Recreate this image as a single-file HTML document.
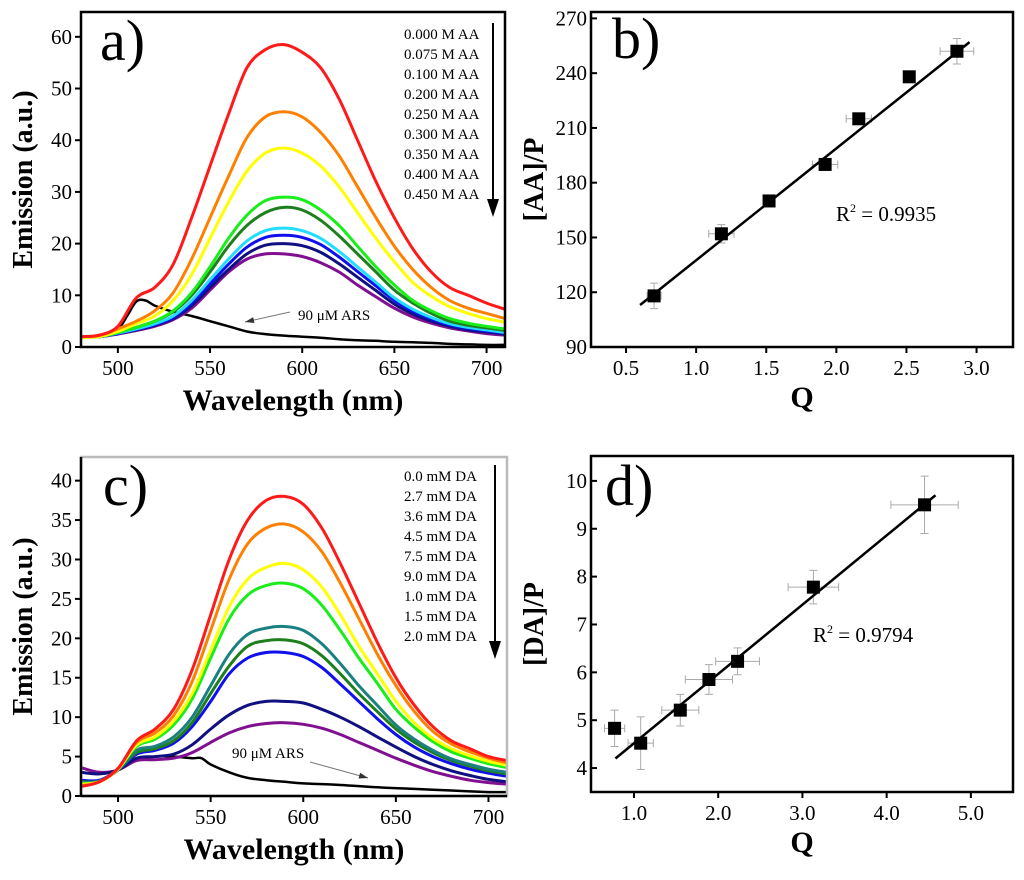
<!DOCTYPE html>
<html><head><meta charset="utf-8"><style>
html,body{margin:0;padding:0;background:#fff;}
svg, svg text{font-family:"Liberation Serif","DejaVu Serif","Noto Serif CJK SC",serif;}
</style></head><body>
<svg id="fig" width="1024" height="875" viewBox="0 0 1024 875" xmlns="http://www.w3.org/2000/svg"></svg>
<script>
// ---------- DATA ----------
const waveKnots = [480,490,500,510,520,530,540,550,560,570,580,590,600,610,620,630,640,650,660,670,680,690,700,710];
const aLabels = ["0.000 M AA","0.075 M AA","0.100 M AA","0.200 M AA","0.250 M AA","0.300 M AA","0.350 M AA","0.400 M AA","0.450 M AA"];
const aColors = ["#ff1a1a","#ff8000","#ffff00","#1aee1a","#1e7f1e","#22ddff","#1010ee","#101080","#80108f"];
const aRed    = [2,2.3,4,9.5,11.5,16,25,35,45,54,57.5,58.5,57,54,48,40,32,25,19,14.5,11.5,10,8.5,7.3];
const aOrange = [2,2.2,3.5,5,7,10.5,17,25,33,40.5,44.5,45.5,44.5,41.5,37,31,25,19.5,15,11.5,9,7.5,6.5,5.5];
const aYellow = [1.8,2,3,4.5,6,9,14,21,28,34,37.5,38.5,37.5,35,31,26,21,16.5,12.5,9.8,7.8,6.5,5.5,4.8];
const aGreen  = [2,2,2.8,3.8,5,7,10.5,15.5,21,25.5,28.3,29,28.5,26.5,23.5,19.5,15.5,12,9,7,5.5,4.6,4,3.5];
const aDkGreen= [2,2,2.8,3.8,5,6.8,10,14.5,19.5,23.5,26,27,26.5,24.5,21.5,18,14.5,11,8.5,6.5,5,4.2,3.7,3.2];
const aCyan   = [1.8,2,2.7,3.5,4.5,6,9,13,17,20.5,22.5,23,22.5,21,18.5,15.5,12.5,9.5,7.3,5.7,4.5,3.8,3.3,2.8];
const aBlue   = [1.9,2,2.6,3.4,4.3,5.7,8.5,12.2,16,19.3,21.2,21.6,21.2,19.8,17.4,14.6,11.8,9,6.9,5.4,4.3,3.6,3.1,2.7];
const aNavy   = [2,2,2.6,3.3,4.2,5.5,8,11.5,15,18,19.7,20,19.6,18.3,16.1,13.5,10.9,8.3,6.4,5,4,3.3,2.9,2.5];
const aPurple = [2,2,2.5,3.2,4,5.3,7.5,11,14.5,17,18,18,17.5,16.3,14.5,12,9.7,7.5,5.8,4.6,3.7,3.1,2.6,2.3];
const aArsX = [480,490,500,505,510,515,520,530,540,550,560,570,580,590,600,610,620,630,640,650,660,670,680,690,700,710];
const aArsY = [1.8,2.2,3.5,6,8.8,9,8,6.8,6,5,4,3,2.5,2.2,2,1.8,1.5,1.3,1.2,1,0.9,0.8,0.6,0.5,0.4,0.4];

const cLabels = ["0.0 mM DA","2.7 mM DA","3.6 mM DA","4.5 mM DA","7.5 mM DA","9.0 mM DA","1.0 mM DA","1.5 mM DA","2.0 mM DA"];
const cColors = ["#ff1a1a","#ff8000","#ffff00","#1aee1a","#1a8080","#1e7f1e","#1010ee","#101080","#80108f"];
const cRed    = [1.2,1.8,3.5,7,8.5,11,16,23,30,35,37.5,38,37,34,29.5,24.5,19.5,15,11.5,8.8,7,6,5,4.5];
const cOrange = [1.3,1.8,3.5,6.8,8,10.2,14.5,21,27.5,32,34,34.5,33.5,31,27,22.5,18,14,10.7,8.2,6.6,5.6,4.8,4.2];
const cYellow = [1.5,1.8,3.4,6.5,7.5,9.5,13,18.5,24,27.5,29,29.5,28.7,26.5,23,19,15.5,12,9.3,7.3,6,5.1,4.4,3.9];
const cGreen  = [1.6,1.8,3.4,6.3,7.2,9,12.3,17.5,22.5,25.5,26.7,27,26.3,24.2,21,17.5,14.3,11,8.7,6.9,5.6,4.8,4.1,3.6];
const cTeal   = [1.7,1.9,3.3,5.8,6.3,7.5,10,14,18,20.5,21.3,21.5,21,19.3,16.8,14,11.5,9,7.2,5.8,4.7,4,3.4,3];
const cDkGreen= [1.8,1.9,3.3,5.5,6,7,9.3,13,16.5,19,19.7,19.8,19.3,17.8,15.5,13,10.7,8.5,6.8,5.5,4.5,3.8,3.2,2.8];
const cBlue   = [2,2,3.3,5.3,5.8,6.7,8.8,12,15.5,17.5,18.2,18.2,17.7,16.3,14.2,12,9.8,7.8,6.2,5,4.1,3.4,2.9,2.5];
const cNavy   = [3,2.8,3.3,4.8,5,5.3,6.5,8.5,10.3,11.5,12,12,11.8,11,10,8.8,7.5,6.2,5,4,3.2,2.6,2.1,1.8];
const cPurple = [3.6,3,3.3,4.5,4.6,4.8,5.5,6.8,8,8.8,9.2,9.3,9.1,8.6,7.8,6.8,5.8,4.8,3.9,3.1,2.5,2,1.7,1.5];
const cArsX = [500,510,520,530,540,545,550,560,570,580,590,600,620,640,660,680,700,710];
const cArsY = [3.5,4.5,5,5,4.8,4.8,4,3,2.3,2,1.8,1.6,1.4,1.1,0.9,0.7,0.5,0.5];

const bQ    = [0.70,1.18,1.52,1.92,2.16,2.52,2.86];
const bAAP  = [118,152,170,190,215,238,252];
const bQerr = [0.05,0.09,0.04,0.09,0.09,0.03,0.12];
const bYerr = [7,5,2,2,2,2,7];
const bFitX = [0.6,2.95];
const bFitY = [113,257];

const dQ    = [0.77,1.08,1.55,1.89,2.23,3.13,4.45];
const dDAP  = [4.83,4.52,5.21,5.85,6.23,7.78,9.5];
const dQerr = [0.12,0.15,0.22,0.28,0.26,0.30,0.40];
const dYerr = [0.38,0.55,0.33,0.31,0.28,0.35,0.6];
const dFitX = [0.78,4.58];
const dFitY = [4.2,9.7];

const aYTicks=[0,10,20,30,40,50,60], aXTicks=[500,550,600,650,700];
const bYTicks=[90,120,150,180,210,240,270], bXTicks=["0.5","1.0","1.5","2.0","2.5","3.0"];
const cYTicks=[0,5,10,15,20,25,30,35,40];
const dYTicks=[4,5,6,7,8,9,10], dXTicks=["1.0","2.0","3.0","4.0","5.0"];

// ---------- DRAW ----------
const svg=document.getElementById('fig');
const NS="http://www.w3.org/2000/svg";
function mk(tag,attrs,parent){const e=document.createElementNS(NS,tag);for(const k in attrs)e.setAttribute(k,attrs[k]);(parent||svg).appendChild(e);return e;}
function txt(s,attrs,parent){const e=mk('text',attrs,parent);e.textContent=s;return e;}
function lin(d0,d1,r0,r1){return v=>r0+(v-d0)/(d1-d0)*(r1-r0);}
function smooth(pts){let d="M"+pts[0][0].toFixed(1)+","+pts[0][1].toFixed(1);
 for(let i=0;i<pts.length-1;i++){const p0=pts[Math.max(0,i-1)],p1=pts[i],p2=pts[i+1],p3=pts[Math.min(pts.length-1,i+2)];
  const c1=[p1[0]+(p2[0]-p0[0])/6,p1[1]+(p2[1]-p0[1])/6],c2=[p2[0]-(p3[0]-p1[0])/6,p2[1]-(p3[1]-p1[1])/6];
  d+=" C"+c1[0].toFixed(1)+","+c1[1].toFixed(1)+" "+c2[0].toFixed(1)+","+c2[1].toFixed(1)+" "+p2[0].toFixed(1)+","+p2[1].toFixed(1);}
 return d;}

function frame(g,L,T,R,B,color,w){
 const f=mk('rect',{x:L,y:T,width:R-L,height:B-T,fill:'none',stroke:color,'stroke-width':w},g);
 
 
}
function yAxis(g,ticks,sy,L,inward){
 ticks.forEach(t=>{const y=sy(t);
  mk('line',{x1:L,x2:inward?L+6:L-6,y1:y,y2:y,stroke:'#000','stroke-width':2},g);
  const e=txt(String(t),{x:L-(inward?4:9),y:y+7,'font-size':21,'text-anchor':'end'},g);
  
  });
}
function xAxis(g,ticks,sx,B){
 ticks.forEach(t=>{const x=sx(parseFloat(t));
  mk('line',{x1:x,x2:x,y1:B,y2:B+6,stroke:'#000','stroke-width':2},g);
  const e=txt(String(t),{x:x,y:B+28,'font-size':21,'text-anchor':'middle'},g);
  
  });
}

function spectrumPanel(name,L,T,R,B,ymax,yTicks,series,colors,labels,arsX,arsY,frameColor,legTop,letter,letterPos,ars){
 const g=mk('g',{});
 
 
 const sx=lin(480,710,L,R), sy=lin(0,ymax,B,T);
 const clip=mk('clipPath',{id:name+'-clip'},g); mk('rect',{x:L,y:T,width:R-L,height:B-T},clip);
 const pg=mk('g',{'clip-path':'url(#'+name+'-clip)'},g);
 const ap=mk('path',{d:smooth(arsX.map((x,i)=>[sx(x),sy(arsY[i])])),fill:'none',stroke:'#000','stroke-width':2.5},pg);
 
 
 for(let s=series.length-1;s>=0;s--){
  const p=mk('path',{d:smooth(waveKnots.map((x,i)=>[sx(x),sy(series[s][i])])),fill:'none',stroke:colors[s],'stroke-width':3,'stroke-linejoin':'round'},pg);
  
  
 }
 frame(g,L,T,R,B,frameColor,2.5);
 if(frameColor!=='#000'){mk('line',{x1:L,x2:L,y1:T,y2:B,stroke:'#000','stroke-width':2.5},g);mk('line',{x1:L,x2:R,y1:B,y2:B,stroke:'#000','stroke-width':2.5},g);}
 yAxis(g,yTicks,sy,L,false);
 xAxis(g,aXTicks,sx,B);
 labels.forEach((l,i)=>{const e=txt(l,{x:404,y:legTop+i*20,'font-size':15},g);
  
  });
 const ax=R-12;
 mk('line',{x1:ax,x2:ax,y1:legTop-16,y2:legTop+8*20+6,stroke:'#000','stroke-width':2},g);
 mk('polygon',{points:(ax-6)+","+(legTop+8*20)+" "+(ax+6)+","+(legTop+8*20)+" "+ax+","+(legTop+8*20+18)},g);
 const lt=txt(letter,{x:letterPos[0],y:letterPos[1],'font-size':58},g);
 
 
 const at=txt('90 μM ARS',{x:ars[0],y:ars[1],'font-size':15},g);
 
 
 mk('line',{x1:ars[2],y1:ars[3],x2:ars[4],y2:ars[5],stroke:'#777','stroke-width':1},g);
 const dx=ars[4]-ars[2],dy=ars[5]-ars[3],len=Math.hypot(dx,dy),ux=dx/len,uy=dy/len;
 mk('polygon',{points:ars[4]+","+ars[5]+" "+(ars[4]-ux*9-uy*3)+","+(ars[5]-uy*9+ux*3)+" "+(ars[4]-ux*9+uy*3)+","+(ars[5]-uy*9-ux*3),fill:'#333'},g);
 const xt=txt('Wavelength (nm)',{x:(L+R)/2,y:B+63,'font-size':30,'font-weight':'bold','text-anchor':'middle'},g);
 
 
 const yc=(T+B)/2;
 const yt=txt('Emission (a.u.)',{x:0,y:0,'font-size':28,'font-weight':'bold','text-anchor':'middle',transform:'translate(32,'+yc+') rotate(-90)'},g);
 
 
}

function scatterPanel(name,L,T,R,B,xr,yr,yTicks,xTicks,X,Y,Xe,Ye,fx,fy,ytitle,letter,letterPos,r2,r2pos){
 const g=mk('g',{});
 
 
 const sx=lin(xr[0],xr[1],L,R), sy=lin(yr[0],yr[1],B,T);
 frame(g,L,T,R,B,'#000',2.5);
 yAxis(g,yTicks,sy,L,true);
 xAxis(g,xTicks,sx,B);
 X.forEach((x,i)=>{
  const cx=sx(x),cy=sy(Y[i]);
  const x0=sx(x-Xe[i]),x1=sx(x+Xe[i]),y0=sy(Y[i]-Ye[i]),y1=sy(Y[i]+Ye[i]);
  mk('path',{d:`M${x0},${cy}H${x1}M${x0},${cy-4}V${cy+4}M${x1},${cy-4}V${cy+4}M${cx},${y0}V${y1}M${cx-4},${y0}H${cx+4}M${cx-4},${y1}H${cx+4}`,stroke:'#aaa','stroke-width':1,fill:'none'},g);
 });
 const fl=mk('line',{x1:sx(fx[0]),y1:sy(fy[0]),x2:sx(fx[1]),y2:sy(fy[1]),stroke:'#000','stroke-width':2.5},g);
 
 
 X.forEach((x,i)=>{
  const r=mk('rect',{x:sx(x)-6.5,y:sy(Y[i])-6.5,width:13,height:13,fill:'#000'},g);
  
  
 });
 const lt=txt(letter,{x:letterPos[0],y:letterPos[1],'font-size':58},g);
 
 
 const rt=txt('',{x:r2pos[0],y:r2pos[1],'font-size':21},g);
 
 
 rt.innerHTML='R<tspan dy="-9" font-size="12">2</tspan><tspan dy="9"> = '+r2+'</tspan>';
 const xt=txt('Q',{x:(L+R)/2,y:B+60,'font-size':30,'font-weight':'bold','text-anchor':'middle'},g);
 
 
 const yt=txt(ytitle,{x:0,y:0,'font-size':28,'font-weight':'bold','text-anchor':'middle',transform:'translate('+(L-48)+','+((T+B)/2)+') rotate(-90)'},g);
 
 
}

spectrumPanel('panel-a',81,12,505,347,64.8,aYTicks,[aRed,aOrange,aYellow,aGreen,aDkGreen,aCyan,aBlue,aNavy,aPurple],aColors,aLabels,aArsX,aArsY,'#000',39,'a)',[100,60],[298,320,290,312,245,322]);
spectrumPanel('panel-c',81,457,507,796,43.0,cYTicks,[cRed,cOrange,cYellow,cGreen,cTeal,cDkGreen,cBlue,cNavy,cPurple],cColors,cLabels,cArsX,cArsY,'#bbb',481,'c)',[103,505],[232,758,310,762,368,778]);
scatterPanel('panel-b',591,12,1013,347,[0.25,3.26],[90,273.5],bYTicks,bXTicks,bQ,bAAP,bQerr,bYerr,bFitX,bFitY,'[AA]/P','b)',[612,58],'0.9935',[836,221]);
scatterPanel('panel-d',591,456,1013,792,[0.49,5.5],[3.5,10.52],dYTicks,dXTicks,dQ,dDAP,dQerr,dYerr,dFitX,dFitY,'[DA]/P','d)',[605,505],'0.9794',[813,642]);
</script>
</body></html>
